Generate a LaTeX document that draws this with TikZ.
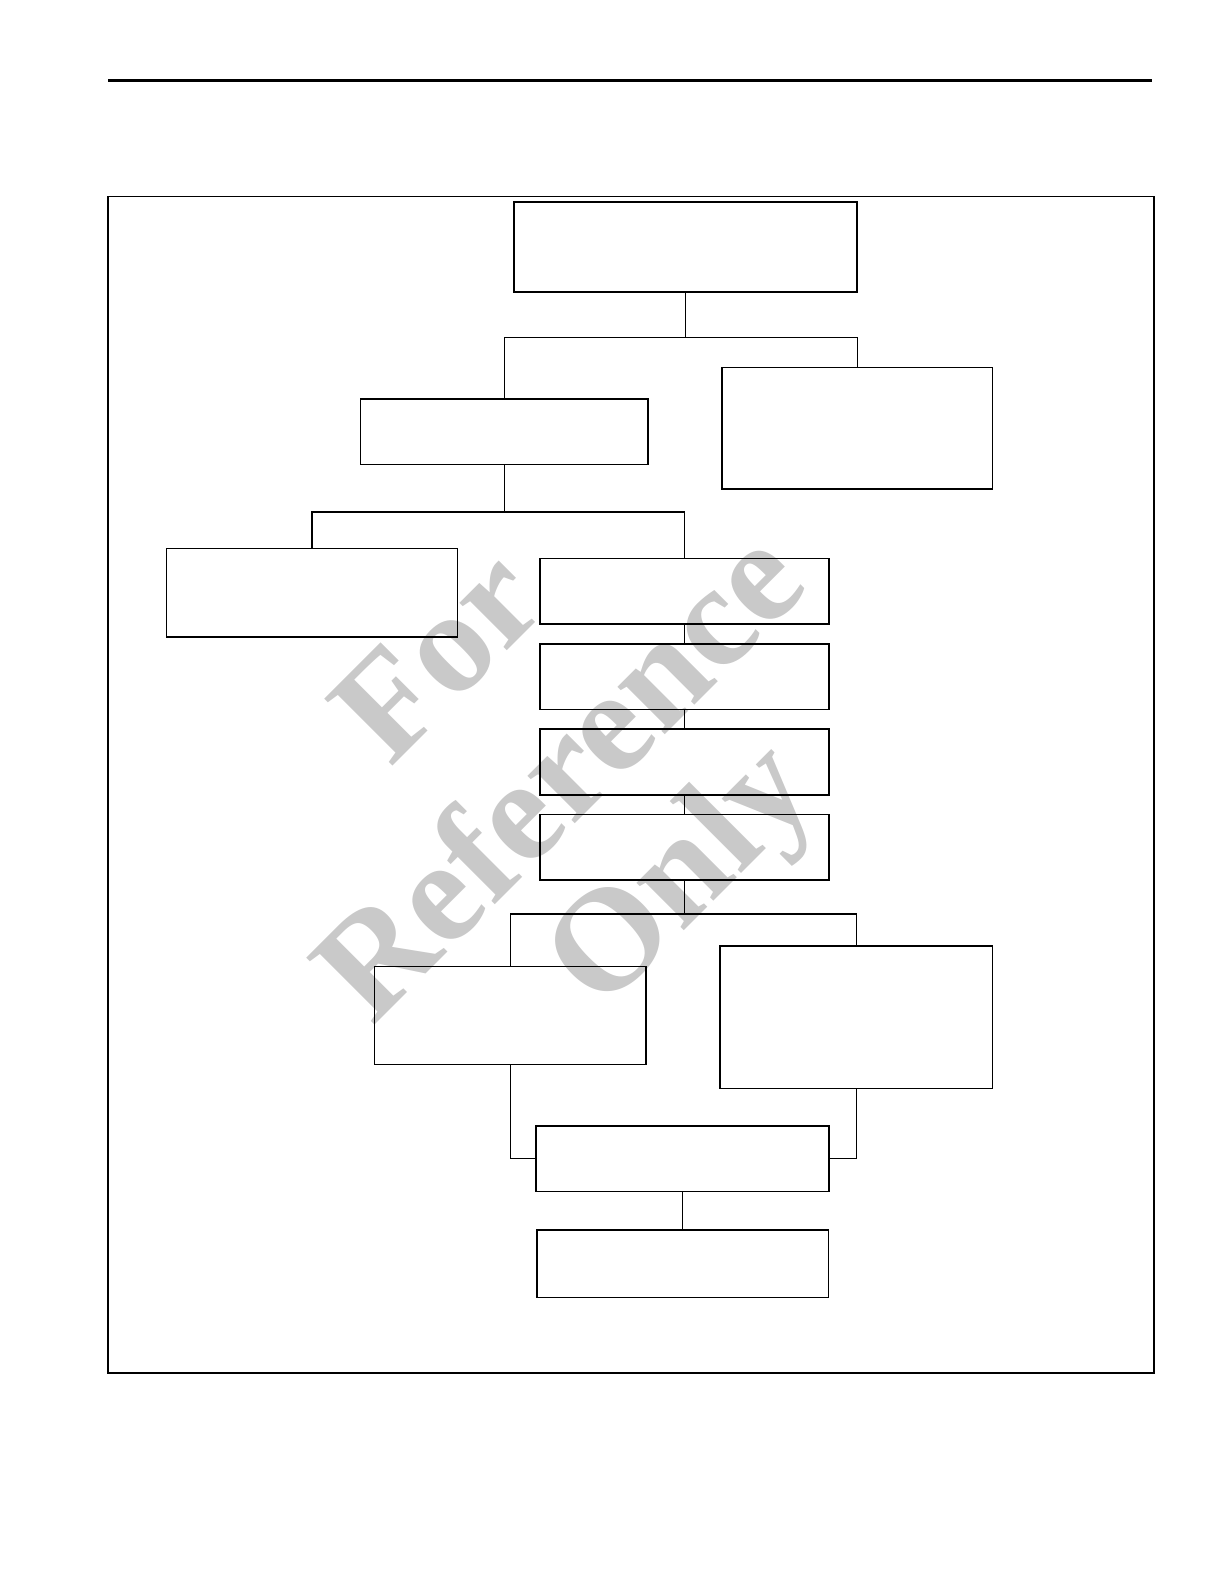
\documentclass[tikz,border=0pt]{standalone}
\usepackage{fontspec}
\newfontfamily\wmfont{Liberation Serif}
\usetikzlibrary{positioning,calc}
\tikzstyle{block} = [draw, rectangle, line width=0.8pt, inner sep=0pt, minimum height=32.8pt, minimum width=144.4pt]
\tikzstyle{wmark} = [text=black!21, rotate=45, font={\wmfont\bfseries\fontsize{73}{73}\selectfont}]
\tikzstyle{link} = [line width=0.7pt]
\begin{document}
\begin{tikzpicture}[x=0.5pt, y=-0.5pt, node distance=42.7pt]
        \useasboundingbox (0,0) rectangle (1224,1584);

        % watermark
        \node [wmark] (wfor) at (437,655) {For};
        \node [wmark] (wref) at (556,772) {Reference};
        \node [wmark] (wonly) at (686,880) {Only};

        \draw [line width=1.1pt] (108,80.5) -- (1152,80.5);
        \draw [line width=0.6pt] (108,196.5) rectangle (1154,1373);

        \node [block, minimum width=171.6pt, minimum height=44.9pt] (head) at (685.6,246.9) {};
        \node [block, minimum width=143.9pt] (sub) at (504.3,431.6) {};
        \node [block, minimum width=135.3pt, minimum height=60.6pt] (side) at (857.2,428.1) {};
        \node [block, minimum width=145.4pt, minimum height=44.4pt] (leftbox) at (312,592.7) {};
        \node [block] (s1) at (684.6,591.2) {};
        \node [block, below of=s1] (s2) {};
        \node [block, below of=s2] (s3) {};
        \node [block, below of=s3] (s4) {};
        \node [block, minimum width=135.8pt, minimum height=49pt] (lowl) at (510.4,1015.3) {};
        \node [block, minimum width=136.3pt, minimum height=71.2pt] (lowr) at (856.2,1017.3) {};
        \node [block, minimum width=146.4pt] (join) at (682.6,1158.6) {};
        \node [block, minimum width=145.9pt, minimum height=33.8pt] (tail) at (682.6,1263.7) {};

        \coordinate (j1) at (685.6,337.2);
        \coordinate (j2) at (504.3,511.9);
        \coordinate (j3) at (684.6,913.8);

        \draw [link] (head) -- (j1);
        \draw [link] (sub) |- (j1) -| (side);
        \draw [link] (sub) -- (j2);
        \draw [link] (leftbox) |- (j2) -| (s1);
        \draw [link] (s1) -- (s2) -- (s3) -- (s4);
        \draw [link] (s4) -- (j3);
        \draw [link] (lowl) |- (j3) -| (lowr);
        \draw [link] (lowl) |- (join);
        \draw [link] (lowr) |- (join);
        \draw [link] (join) -- (tail);
\end{tikzpicture}
\end{document}
